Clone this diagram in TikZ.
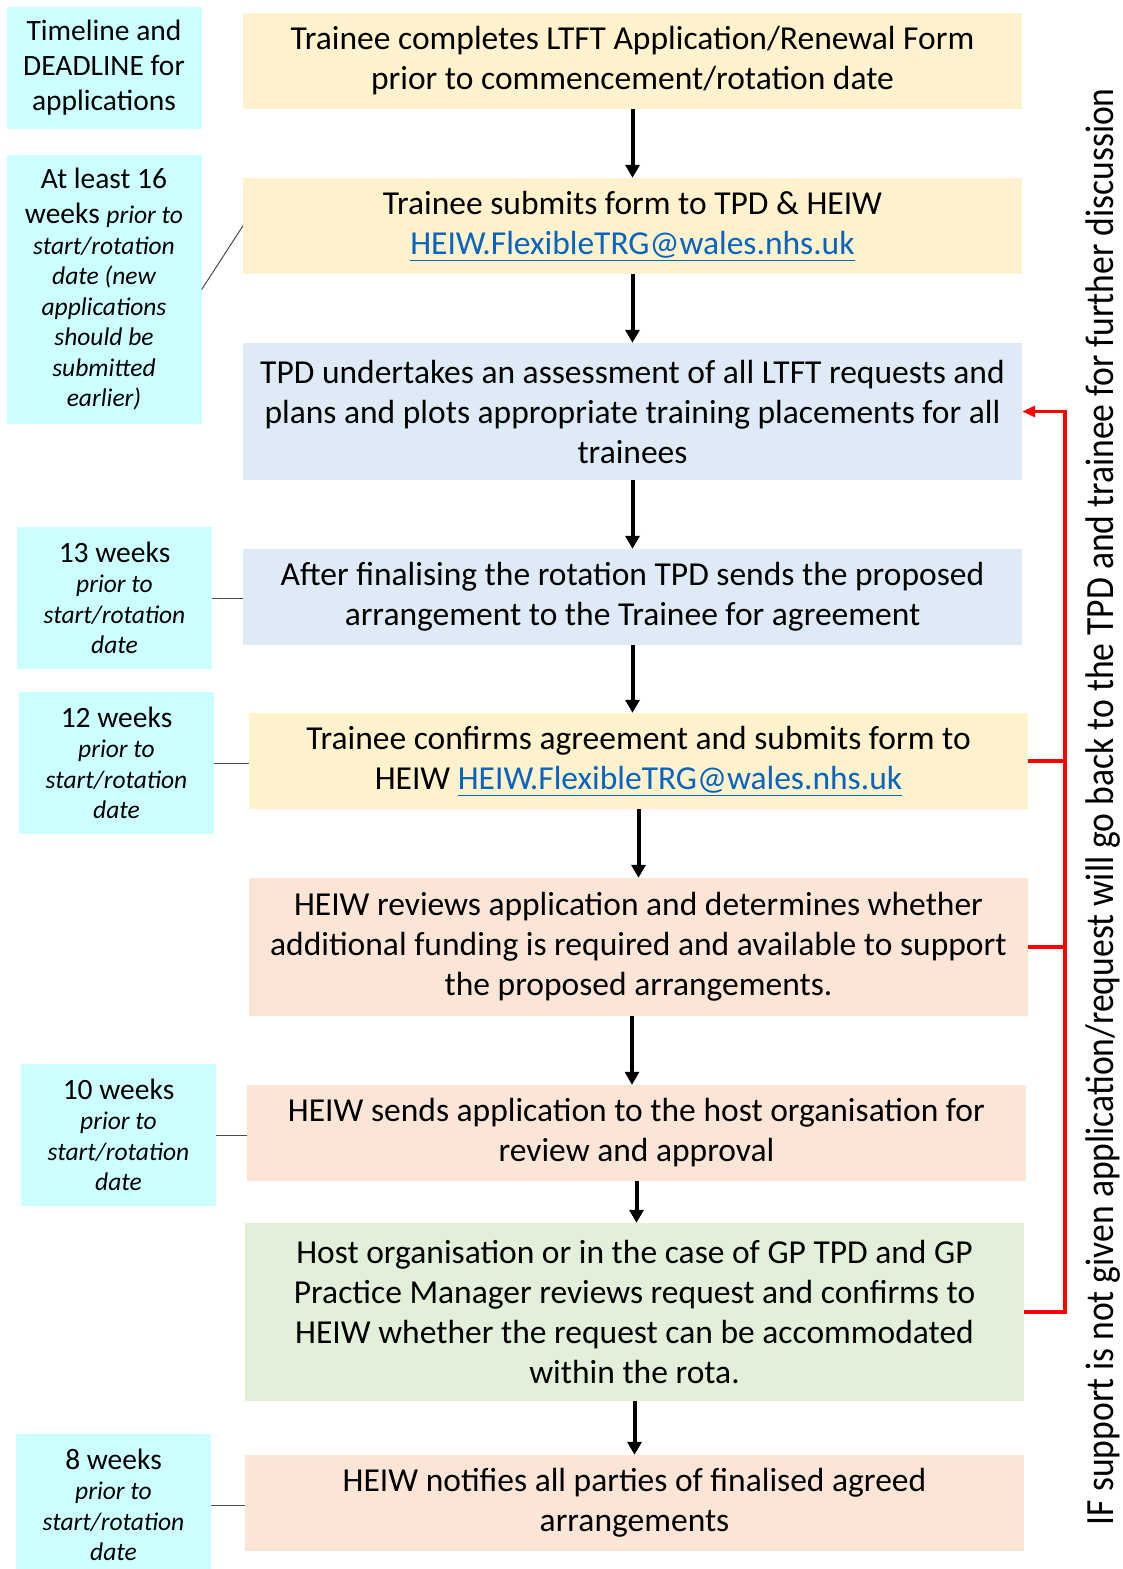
\documentclass[tikz,border=0pt]{standalone}
\usepackage{fontspec}
\setmainfont{Carlito}
\usepackage{xcolor}
\usetikzlibrary{arrows.meta,positioning,calc}
\definecolor{sidecyan}{HTML}{CCFFFF}
\definecolor{formyellow}{HTML}{FFF2CC}
\definecolor{tpdblue}{HTML}{DEEBF7}
\definecolor{heiwpeach}{HTML}{FBE5D6}
\definecolor{hostgreen}{HTML}{E2F0D9}
\definecolor{linkblue}{HTML}{0563C1}
\newcommand{\maillink}[1]{\textcolor{linkblue}{\underline{#1}}}
\newcommand{\priorto}{\fontsize{25.5}{30.5}\selectfont\itshape}
\newcommand{\weeksnote}[1]{{#1 weeks\par}{\priorto prior to\par start/rotation\par date\par}}
\tikzset{%
  every stage/.style={
    rectangle,
    draw=none,
    minimum width=779pt,
    text width=772pt,
    inner xsep=2pt,
    align=flush center,
    font=\fontsize{33.5}{40}\selectfont
  },
  stage form/.style={fill=formyellow},
  stage tpd/.style={fill=tpdblue},
  stage heiw/.style={fill=heiwpeach},
  stage host/.style={fill=hostgreen},
  every when/.style={
    rectangle,
    fill=sidecyan,
    minimum width=195pt,
    text width=190pt,
    inner xsep=2pt,
    align=flush center,
    font=\fontsize{29.5}{35}\selectfont
  },
  tick/.style={draw=black!70, line width=1pt},
  feedback/.style={draw=red, line width=3.5pt},
}

\begin{document}
\begin{tikzpicture}[x=1pt, y=-1pt, >={Triangle[width=14pt,length=13pt]}]
  \useasboundingbox (0,0) rectangle (1123,1569);

  % flow of the application
  \node [every stage/.try, stage form/.try, minimum height=96pt] (step1) at (632.5,61)
    {Trainee completes LTFT Application/Renewal Form\\ prior to commencement/rotation date};
  \node [every stage/.try, stage form/.try, minimum height=96pt] (step2) at (632.5,226)
    {Trainee submits form to TPD \& HEIW\\ \maillink{HEIW.FlexibleTRG@wales.nhs.uk}};
  \node [every stage/.try, stage tpd/.try, minimum height=137pt] (step3) at (632.5,411.5)
    {TPD undertakes an assessment of all LTFT requests and\\ plans and plots appropriate training placements for all\\ trainees};
  \node [every stage/.try, stage tpd/.try, minimum height=96pt] (step4) at (632.5,597)
    {After finalising the rotation TPD sends the proposed\\ arrangement to the Trainee for agreement};
  \node [every stage/.try, stage form/.try, minimum height=96pt] (step5) at (638.5,761)
    {Trainee confirms agreement and submits form to\\ HEIW \maillink{HEIW.FlexibleTRG@wales.nhs.uk}};
  \node [every stage/.try, stage heiw/.try, minimum height=138pt] (step6) at (638.5,947)
    {HEIW reviews application and determines whether\\ additional funding is required and available to support\\ the proposed arrangements.};
  \node [every stage/.try, stage heiw/.try, minimum height=96pt] (step7) at (636.5,1133)
    {HEIW sends application to the host organisation for\\ review and approval};
  \node [every stage/.try, stage host/.try, minimum height=178pt] (step8) at (634.5,1312)
    {Host organisation or in the case of GP TPD and GP\\ Practice Manager reviews request and confirms to\\ HEIW whether the request can be accommodated\\ within the rota.};
  \node [every stage/.try, stage heiw/.try, minimum height=96pt] (step9) at (634.5,1503)
    {HEIW notifies all parties of finalised agreed\\ arrangements};

  \foreach \i/\dx [evaluate=\i as \j using int(\i+1)] in {1/0,2/0,3/0,4/0,5/0,6/-6.5,7/0,8/0}
    \draw [->, line width=4pt] ([xshift=\dx pt]step\i.south) -- ([xshift=\dx pt]step\i.south |- step\j.north);

  % deadlines
  \node [every when/.try, minimum height=122pt] (when0) at (104,68)
    {Timeline and\\ DEADLINE for\\ applications};
  \node [every when/.try, minimum height=269pt] (when1) at (104,289.5)
    {{At least 16\par weeks {\priorto prior to}\par}%
     {\priorto start/rotation\par date (new\par applications\par should be\par submitted\par earlier)\par}};
  \foreach \n/\x/\y/\s in {13/114.5/598/2, 12/116.5/763/3, 10/118.5/1135/4, 8/113.5/1505/5}
    \node [every when/.try, minimum height=142pt] (when\s) at (\x,\y) {\weeksnote{\n}};

  \draw [tick] (when1.east) -- (step2.west);
  \foreach \s/\t in {2/4, 3/5, 4/7, 5/9}
    \draw [tick] (when\s.east) -- (when\s.east -| step\t.west);

  % way back to the TPD
  \coordinate (back) at (1065,411.5);
  \draw [feedback, -{Triangle[width=11pt,length=13pt]}] (step8.east) -| (back) -- (step3.east);
  \foreach \t in {5,6}
    \draw [feedback] (step\t.east) -- (step\t.east -| back);

  \node [rotate=90] (note) at (1103,806.5)
    {\resizebox{1437pt}{\height}{\fontsize{40}{48}\selectfont IF support is not given application/request will go back to the TPD and trainee for further discussion}};
\end{tikzpicture}
\end{document}
